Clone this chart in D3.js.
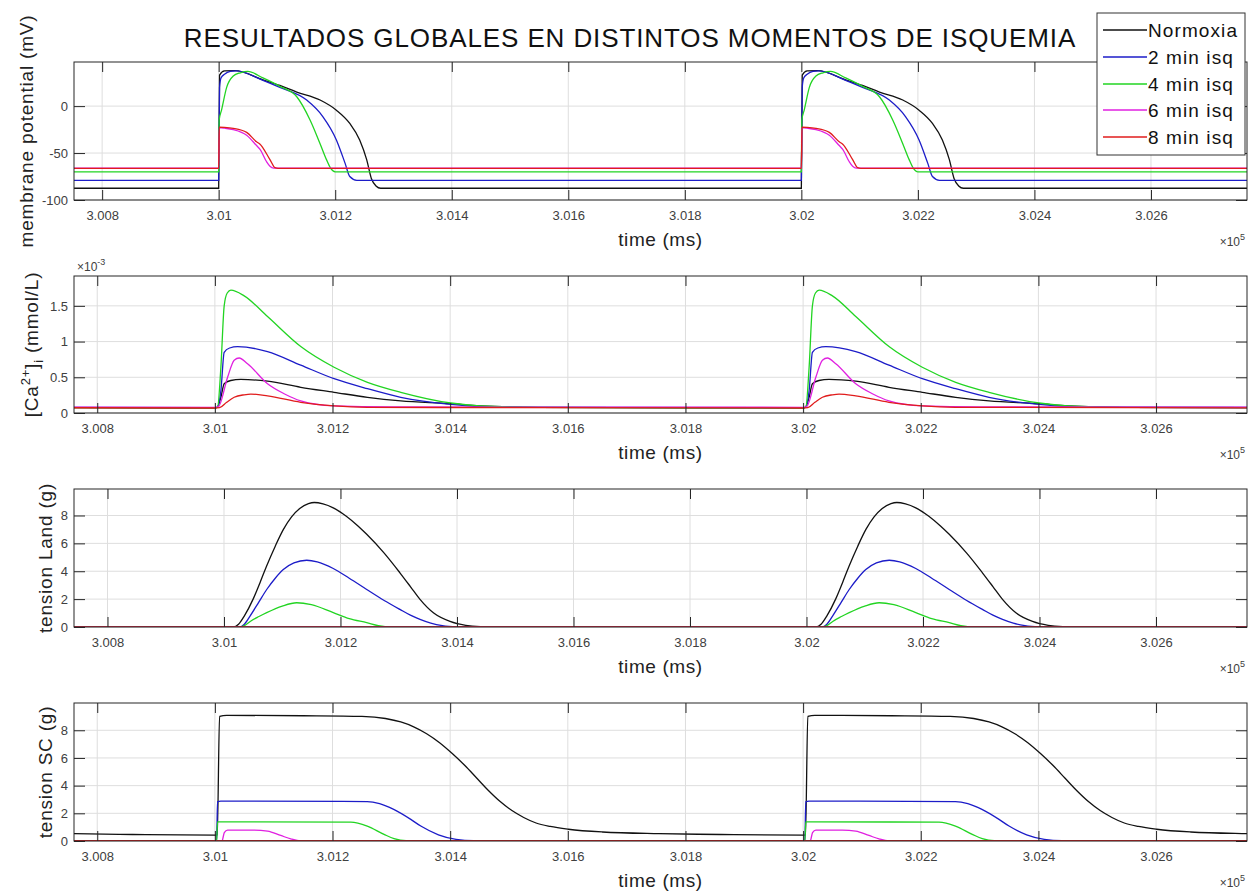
<!DOCTYPE html>
<html>
<head>
<meta charset="utf-8">
<script src="https://cdn.jsdelivr.net/npm/d3@7"></script>
<style>
  body { margin: 0; background: #fff; }
  text { font-family: "Liberation Sans", Arial, Helvetica, sans-serif; }
</style>
</head>
<body>
<svg id="fig" width="1258" height="893"></svg>
<script>
// ---- data (one beat, dt in ms from the stimulus) ----
const seriesNames = ["Normoxia", "2 min isq", "4 min isq", "6 min isq", "8 min isq"];
const beatStarts = [300000, 301000, 302000];
const xTicks = [300800, 301000, 301200, 301400, 301600, 301800, 302000, 302200, 302400, 302600];

// membrane potential (mV)
const vmTicks = [-100, -50, 0];
const vmNormoxia = [[0,-87.5],[1.5,33],[10,37.5],[28,37.8],[76,28],[105,22],[134,15],[174,6.5],[202,-4.3],[225,-18.4],[242,-36],[254,-57],[262,-77],[270,-85],[278,-87.5],[1000,-87.5]];
const vm2min = [[0,-79],[1.5,20],[4,30],[10,34],[20,37],[30,37.5],[76,27.5],[105,20],[151,6.4],[179,-11.4],[202,-36],[217,-61],[225,-75],[237,-79],[1000,-79]];
const vm4min = [[0,-70],[0.8,-15],[5,-4],[13.7,20],[25,32],[37,35.5],[50,37],[76,30],[105,21],[134,10],[157,-15],[174,-40],[185,-57],[192,-66],[200,-70],[1000,-70]];
const vm6min = [[0,-66],[1,-23],[10,-23.5],[25,-25],[48,-31],[65,-42],[71,-46],[82,-59],[88,-64],[94,-66],[1000,-66]];
const vm8min = [[0,-66.3],[1,-22.5],[10,-22.7],[25,-23.7],[48,-28],[65,-38],[71,-40.5],[88,-57],[96.6,-65.6],[102,-66.3],[1000,-66.3]];

// [Ca2+]i (x1e-3 mmol/L)
const caTicks = [0, 0.5, 1, 1.5];
const caNormoxia = [[0,0.07],[4,0.08],[10.2,0.22],[15.8,0.41],[27,0.455],[44,0.47],[89.5,0.445],[146,0.36],[202.6,0.29],[259.4,0.22],[316,0.17],[401,0.13],[450,0.1],[550,0.08],[1000,0.07]];
const ca2min = [[0,0.075],[4,0.08],[10.2,0.31],[15.8,0.85],[25,0.91],[38.6,0.93],[89.5,0.86],[146,0.67],[202.6,0.48],[259.4,0.34],[316,0.22],[401,0.12],[450,0.09],[550,0.08],[1000,0.075]];
const ca4min = [[0,0.07],[4.6,0.08],[10.2,0.64],[15.8,1.5],[21,1.68],[27.2,1.72],[49.8,1.64],[89.5,1.35],[146,0.93],[202.6,0.64],[259.4,0.43],[316,0.29],[401,0.14],[450,0.1],[550,0.08],[1000,0.07]];
const ca6min = [[0,0.08],[6,0.09],[21.6,0.5],[32.8,0.74],[41.3,0.77],[55.5,0.69],[89.5,0.41],[117.7,0.27],[146,0.17],[202.6,0.1],[300,0.085],[1000,0.08]];
const ca8min = [[0,0.07],[8,0.075],[20,0.15],[32.8,0.22],[49.8,0.255],[61.1,0.265],[89.5,0.24],[146,0.15],[202.6,0.1],[259,0.08],[1000,0.07]];

// tension Land (g)
const landTicks = [0, 2, 4, 6, 8];
const landNormoxia = [[0,0],[16,0],[25,0.2],[35,0.8],[50,2.0],[62,3.2],[73,4.36],[88,5.8],[102,7.0],[116,7.9],[130,8.5],[145,8.85],[155,8.93],[170,8.83],[187.6,8.55],[210,7.95],[230,7.25],[245,6.65],[275,5.3],[302,3.89],[320,2.9],[336.5,1.98],[360,1.0],[388,0.4],[415,0.12],[440,0.03],[480,0],[1000,0]];
const land2min = [[0,0],[27,0],[35,0.2],[45,0.8],[60,1.8],[73.3,2.69],[88,3.5],[101.8,4.12],[120,4.6],[142,4.79],[160,4.68],[187.6,4.2],[215,3.5],[245,2.69],[275,1.9],[302,1.26],[320,0.85],[336.5,0.55],[355,0.28],[375,0.1],[400,0.02],[430,0],[1000,0]];
const land4min = [[0,0],[27,0],[35,0.1],[45,0.4],[60,0.75],[73.3,1.03],[100,1.5],[124.8,1.74],[150,1.6],[187.6,1.03],[215,0.6],[245,0.31],[265,0.1],[285,0],[1000,0]];
const land6min = [[0,0],[1000,0]];
const land8min = [[0,0],[1000,0]];

// tension SC (g)
const scTicks = [0, 2, 4, 6, 8];
const scNormoxia = [[0,0.42],[4,0.45],[8,9.0],[20,9.08],[150,9.05],[250,9.0],[290,8.85],[316,8.6],[338,8.25],[360,7.75],[382,7.1],[404,6.3],[425,5.45],[445,4.55],[465,3.65],[485,2.85],[505,2.2],[525,1.7],[546,1.3],[570,1.05],[601,0.85],[659,0.65],[755,0.53],[860,0.47],[1000,0.42]];
const sc2min = [[0,0],[3,0.02],[4.5,2.85],[10,2.88],[259,2.85],[280,2.7],[304,2.28],[333,1.56],[350,1.08],[380,0.45],[410,0.12],[440,0.02],[1000,0]];
const sc4min = [[0,0],[3,0.02],[4.5,1.38],[10,1.38],[231,1.36],[259,1.08],[287.6,0.48],[304.6,0.17],[325,0.02],[1000,0]];
const sc6min = [[0,0],[12,0],[16,0.6],[21.6,0.79],[66.8,0.79],[89.5,0.72],[112,0.4],[129,0.15],[146,0.01],[1000,0]];
const sc8min = [[0,0.02],[1000,0.02]];

const colors = ["#111111", "#1c1cc8", "#22d422", "#e020e0", "#e01c1c"];

// ---- layout ----
const svg = d3.select("#fig");
const left = 74, right = 1247;

const panels = [
  {top: 62,  bottom: 200, xd: [300751.7, 302764.8], yd: [-100, 47],   ticks: vmTicks,   data: [vmNormoxia, vm2min, vm4min, vm6min, vm8min],             labX: 33},
  {top: 276, bottom: 413, xd: [300760.5, 302754.6], yd: [0, 1.918],   ticks: caTicks,   data: [caNormoxia, ca2min, ca4min, ca6min, ca8min],             labX: 38},
  {top: 489, bottom: 627, xd: [300742.5, 302756.2], yd: [0, 9.9],     ticks: landTicks, data: [landNormoxia, land2min, land4min, land6min, land8min],  labX: 52},
  {top: 703, bottom: 841, xd: [300760.5, 302754.6], yd: [0, 9.97],    ticks: scTicks,   data: [scNormoxia, sc2min, sc4min, sc6min, sc8min],             labX: 52}
];

function expand(beat) {
  const out = [];
  beatStarts.forEach(s => beat.forEach(([dt, v]) => {
    const t = s + dt;
    if (!out.length || t > out[out.length - 1][0]) out.push([t, v]);
  }));
  return out;
}

const fmtX = d => String(+(d / 1e5).toFixed(3));

panels.forEach((p, i) => {
  const x = d3.scaleLinear().domain(p.xd).range([left, right]);
  const y = d3.scaleLinear().domain(p.yd).range([p.bottom, p.top]);
  const h = p.bottom - p.top;

  const g = svg.append("g");

  // grid
  g.append("g").selectAll("line").data(xTicks).enter().append("line")
    .attr("x1", d => x(d)).attr("x2", d => x(d))
    .attr("y1", p.top).attr("y2", p.bottom)
    .attr("stroke", "#dedede").attr("stroke-width", 1);
  g.append("g").selectAll("line").data(p.ticks).enter().append("line")
    .attr("x1", left).attr("x2", right)
    .attr("y1", d => y(d)).attr("y2", d => y(d))
    .attr("stroke", "#dedede").attr("stroke-width", 1);

  // curves
  svg.append("clipPath").attr("id", "clip" + i).append("rect")
    .attr("x", left).attr("y", p.top).attr("width", right - left).attr("height", h);
  const line = d3.line().x(d => x(d[0])).y(d => y(d[1])).curve(d3.curveMonotoneX);
  const lg = g.append("g").attr("clip-path", `url(#clip${i})`);
  p.data.forEach((s, k) => {
    lg.append("path").datum(expand(s))
      .attr("fill", "none").attr("stroke", colors[k]).attr("stroke-width", 1.3)
      .attr("d", line);
  });

  // axes (ticks inside, MATLAB style)
  const bottomAx = g.append("g").attr("transform", `translate(0,${p.bottom})`)
    .call(d3.axisBottom(x).tickValues(xTicks).tickSizeInner(-10).tickSizeOuter(0).tickFormat(fmtX));
  bottomAx.selectAll("text").attr("y", 15).attr("dy", "0.35em");
  g.append("g").attr("transform", `translate(0,${p.top})`)
    .call(d3.axisTop(x).tickValues(xTicks).tickSizeInner(-10).tickSizeOuter(0).tickFormat(""));
  const leftAx = g.append("g").attr("transform", `translate(${left},0)`)
    .call(d3.axisLeft(y).tickValues(p.ticks).tickSizeInner(-11).tickSizeOuter(0).tickFormat(d => String(d)));
  leftAx.selectAll("text").attr("x", -6);
  g.append("g").attr("transform", `translate(${right},0)`)
    .call(d3.axisRight(y).tickValues(p.ticks).tickSizeInner(-11).tickSizeOuter(0).tickFormat(""));
  g.selectAll(".domain").remove();
  g.selectAll(".tick line").attr("stroke", "#262626");
  g.selectAll(".tick text").attr("fill", "#404040").style("font-size", "13px")
    .style("font-family", '"Liberation Sans", Arial, sans-serif');

  g.append("rect").attr("x", left).attr("y", p.top).attr("width", right - left).attr("height", h)
    .attr("fill", "none").attr("stroke", "#262626").attr("stroke-width", 1);

  // x label and exponent
  g.append("text").attr("x", (left + right) / 2).attr("y", p.bottom + 39)
    .attr("dy", "0.35em").attr("text-anchor", "middle")
    .style("font-size", "19px").style("letter-spacing", "0.6px").attr("fill", "#222")
    .text("time (ms)");
  const ex = g.append("text").attr("x", right - 2).attr("y", p.bottom + 46)
    .attr("text-anchor", "end").style("font-size", "12px").attr("fill", "#404040");
  ex.append("tspan").text("\u00d710");
  ex.append("tspan").attr("dy", -6).style("font-size", "9px").text("5");
});

// y labels
function ylab(p, build) {
  const t = svg.append("text")
    .attr("transform", `translate(${p.labX},${(p.top + p.bottom) / 2}) rotate(-90)`)
    .attr("text-anchor", "middle").style("font-size", "19px").style("letter-spacing", "0.8px")
    .attr("fill", "#222");
  build(t);
}
ylab(panels[0], t => t.text("membrane potential (mV)"));
ylab(panels[1], t => {
  t.append("tspan").text("[Ca");
  t.append("tspan").attr("dy", -8).style("font-size", "13px").text("2+");
  t.append("tspan").attr("dy", 8).text("]");
  t.append("tspan").attr("dy", 5).style("font-size", "13px").text("i");
  t.append("tspan").attr("dy", -5).text(" (mmol/L)");
});
ylab(panels[2], t => t.text("tension Land (g)"));
ylab(panels[3], t => t.text("tension SC (g)"));

// x1e-3 exponent of the calcium panel
const e3 = svg.append("text").attr("x", left + 3).attr("y", panels[1].top - 5)
  .style("font-size", "12px").attr("fill", "#404040");
e3.append("tspan").text("\u00d710");
e3.append("tspan").attr("dy", -6).style("font-size", "9px").text("-3");

// title
svg.append("text").attr("x", 630).attr("y", 47).attr("text-anchor", "middle")
  .style("font-size", "26px").style("letter-spacing", "0.9px").attr("fill", "#111")
  .text("RESULTADOS GLOBALES EN DISTINTOS MOMENTOS DE ISQUEMIA");

// legend
const leg = svg.append("g");
leg.append("rect").attr("x", 1097).attr("y", 13).attr("width", 148).attr("height", 142)
  .attr("fill", "#fff").attr("stroke", "#333").attr("stroke-width", 1);
const legY = [30, 57, 84, 110, 137];
seriesNames.forEach((n, k) => {
  leg.append("line").attr("x1", 1103).attr("x2", 1147).attr("y1", legY[k]).attr("y2", legY[k])
    .attr("stroke", colors[k]).attr("stroke-width", 1.3);
  leg.append("text").attr("x", 1148).attr("y", legY[k]).attr("dy", "0.35em")
    .style("font-size", "19px").style("letter-spacing", "1.1px").attr("fill", "#111").text(n);
});
</script>
</body>
</html>
